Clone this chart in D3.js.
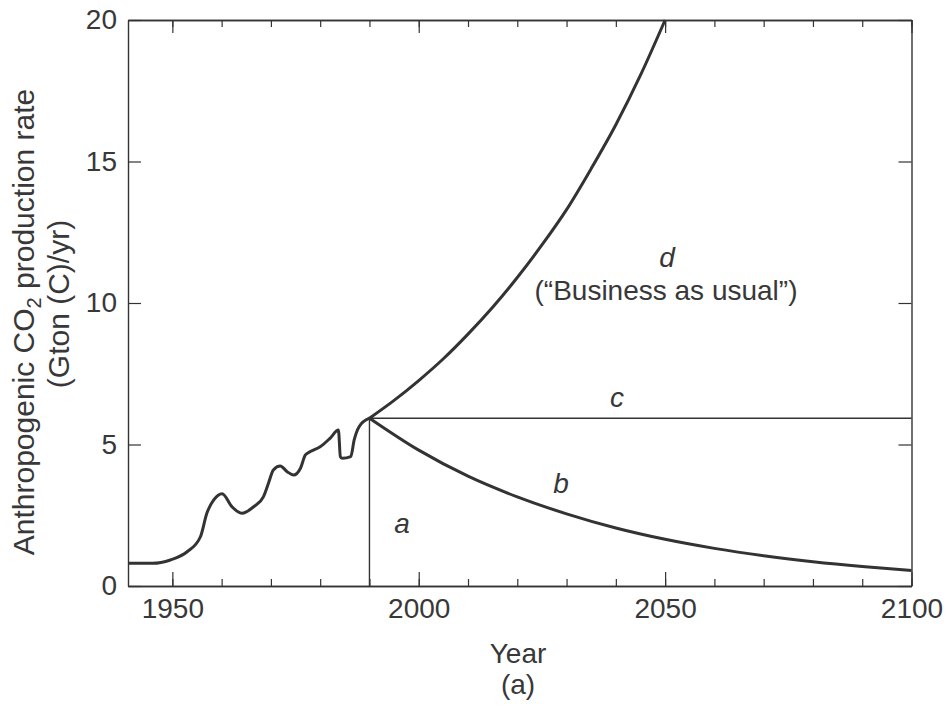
<!DOCTYPE html>
<html>
<head>
<meta charset="utf-8">
<script src="https://cdn.jsdelivr.net/npm/d3@7"></script>
<style>
  body { margin: 0; background: #fff; }
  svg text { font-family: "Liberation Sans", Arial, Helvetica, sans-serif; fill: #383838; }
</style>
</head>
<body>
<svg width="946" height="712"></svg>
<script>
// Historical emissions
const histYears = [1941, 1946, 1949.6, 1953, 1955.7, 1957, 1958.4, 1960.1, 1962.1, 1964.1,
  1966.5, 1968.5, 1969.5, 1970.5, 1971.9, 1973.3, 1974.6, 1976, 1977, 1978,
  1980, 1982, 1983.7, 1984.1, 1984.5, 1986.2, 1986.9, 1987.9, 1990];
const histValues = [0.8, 0.8, 0.92, 1.21, 1.74, 2.57, 3.04, 3.26, 2.8, 2.57,
  2.8, 3.16, 3.63, 4.1, 4.24, 4.04, 3.92, 4.16, 4.63, 4.75,
  4.92, 5.22, 5.51, 4.57, 4.51, 4.57, 5.16, 5.63, 5.93];

// Scenario d: "Business as usual"
const dYears = [1990, 1995, 2000, 2005, 2010, 2015, 2020, 2025, 2030, 2035, 2040, 2045, 2050];
const dValues = [5.93, 6.56, 7.26, 8.03, 8.9, 9.85, 10.9, 12.05, 13.3, 14.75, 16.3, 18.05, 20.0];

// Scenario c: constant
const cYears = [1990, 2100];
const cValues = [5.93, 5.93];

// Scenario b: decline
const bYears = [1990, 2000, 2010, 2020, 2030, 2040, 2050, 2060, 2070, 2080, 2090, 2100];
const bValues = [5.93, 4.8, 3.88, 3.15, 2.55, 2.05, 1.65, 1.33, 1.07, 0.86, 0.69, 0.55];

// Scenario a: stop at 1990
const aYears = [1990, 1990];
const aValues = [5.93, 0];

// Ticks
const xMajorTicks = [1950, 2000, 2050, 2100];
const xMinorTicks = [1950, 1960, 1970, 1980, 1990, 2000, 2010, 2020, 2030, 2040, 2050, 2060, 2070, 2080, 2090, 2100];
const yTicks = [0, 5, 10, 15, 20];

const svg = d3.select("svg");
const ink = "#333";

const x = d3.scaleLinear().domain([1941, 2100]).range([128, 911.5]);
const y = d3.scaleLinear().domain([0, 20]).range([586, 20]);

// axes (ticks pointing inward)
function styleAxis(g) {
  g.selectAll("path.domain").attr("stroke", ink).attr("stroke-width", 1.4);
  g.selectAll(".tick line").attr("stroke", ink).attr("stroke-width", 1.2);
  g.selectAll("text").attr("font-size", 28).attr("fill", "#383838")
    .style("font-family", "'Liberation Sans', Arial, sans-serif");
}

svg.append("g").attr("transform", "translate(0,586)")
  .call(d3.axisBottom(x).tickValues(xMinorTicks).tickSize(-7).tickSizeOuter(0).tickFormat(""))
  .call(styleAxis);
svg.append("g").attr("transform", "translate(0,586)")
  .call(d3.axisBottom(x).tickValues(xMajorTicks).tickSize(-14).tickSizeOuter(0).tickPadding(12).tickFormat(d3.format("d")))
  .call(styleAxis);
svg.append("g").attr("transform", "translate(0,20)")
  .call(d3.axisTop(x).tickValues(xMinorTicks).tickSize(-7).tickSizeOuter(0).tickFormat(""))
  .call(styleAxis);
svg.append("g").attr("transform", "translate(0,20)")
  .call(d3.axisTop(x).tickValues(xMajorTicks).tickSize(-13).tickSizeOuter(0).tickFormat(""))
  .call(styleAxis);
svg.append("g").attr("transform", "translate(128,0)")
  .call(d3.axisLeft(y).tickValues(yTicks).tickSize(-13).tickSizeOuter(0).tickPadding(11))
  .call(styleAxis);
svg.append("g").attr("transform", "translate(911.5,0)")
  .call(d3.axisRight(y).tickValues(yTicks).tickSize(-13).tickSizeOuter(0).tickFormat(""))
  .call(styleAxis);

// lines
const line = d3.line().x(d => x(d[0])).y(d => y(d[1])).curve(d3.curveMonotoneX);
const straight = d3.line().x(d => x(d[0])).y(d => y(d[1]));

function draw(years, values, gen, width) {
  svg.append("path")
    .datum(d3.zip(years, values))
    .attr("d", gen)
    .attr("fill", "none")
    .attr("stroke", ink)
    .attr("stroke-width", width)
    .attr("stroke-linejoin", "round");
}

draw(aYears, aValues, straight, 1.4);
draw(cYears, cValues, straight, 1.4);
draw(histYears, histValues, line, 3);
draw(dYears, dValues, line, 3);
draw(bYears, bValues, line, 3);

// labels
const labels = svg.append("g").attr("font-size", 28).attr("text-anchor", "middle");
labels.append("text").attr("x", 402).attr("y", 533).attr("font-style", "italic").text("a");
labels.append("text").attr("x", 561).attr("y", 493).attr("font-style", "italic").text("b");
labels.append("text").attr("x", 617).attr("y", 407).attr("font-style", "italic").text("c");
labels.append("text").attr("x", 667).attr("y", 267).attr("font-style", "italic").text("d");
labels.append("text").attr("x", 666).attr("y", 300).text("(\u201cBusiness as usual\u201d)");

// axis titles
labels.append("text").attr("x", 518).attr("y", 663).text("Year");
labels.append("text").attr("x", 518).attr("y", 694).text("(a)");

const yt = labels.append("text").attr("font-size", 30).attr("transform", "translate(34,322) rotate(-90)");
yt.append("tspan").text("Anthropogenic CO");
yt.append("tspan").attr("font-size", 20).attr("dy", 7).text("2");
yt.append("tspan").attr("dy", -7).text(" production rate");
labels.append("text").attr("font-size", 30).attr("transform", "translate(69,304) rotate(-90)").text("(Gton (C)/yr)");
</script>
</body>
</html>
